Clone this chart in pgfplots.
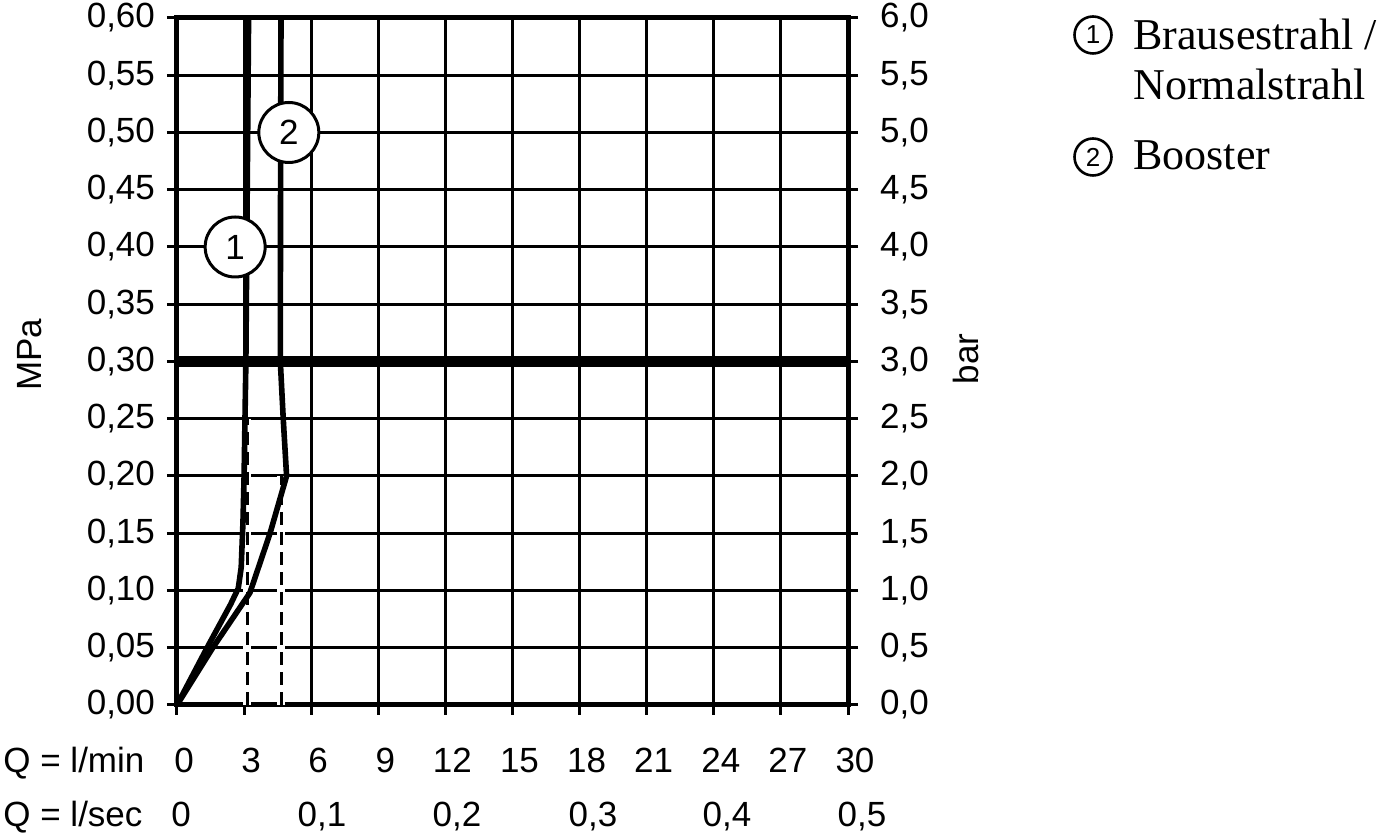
\documentclass[border=0pt]{standalone}
\usepackage{pgfplots}
\pgfplotsset{compat=1.18}
\usepackage{fontspec}
\setmainfont{Liberation Serif}
\setsansfont{Liberation Sans}
\newcommand\axfont{\sffamily\fontsize{17.5}{20}\selectfont}
\begin{document}
\begin{tikzpicture}
\pgfplotsset{
  chartbase/.style={
    at={(0pt,0pt)}, anchor=south west,
    scale only axis, width=335.5pt, height=343.5pt,
    xmin=0, xmax=30,
    tick align=outside,
    major tick length=5pt,
    tick style={black, line width=1.5pt},
    axis line style={black, line width=2.5pt},
    ticklabel style={font=\axfont},
  }
}
\begin{axis}[chartbase,
  ymin=0, ymax=0.6,
  xtick={0,3,...,30},
  xticklabels={0,3,6,9,12,15,18,21,24,27,30},
  xticklabel style={anchor=base, xshift=3.5pt, yshift=-29pt},
  yticklabel style={xshift=-2.5pt},
  ytick={0,0.05,0.1,0.15,0.2,0.25,0.3,0.35,0.4,0.45,0.5,0.55,0.6},
  yticklabels={{0,00},{0,05},{0,10},{0,15},{0,20},{0,25},{0,30},{0,35},{0,40},{0,45},{0,50},{0,55},{0,60}},
  xtick pos=bottom, ytick pos=left,
  grid=major,
  major grid style={black, line width=1.5pt},
  clip=false,
]
% dashed guide lines with white halo
\addplot[white, line width=4pt] coordinates {(3.14,0) (3.14,0.25)};
\addplot[white, line width=4pt] coordinates {(4.65,0) (4.65,0.2)};
\addplot[black, line width=1.5pt, dash pattern=on 6.5pt off 3.5pt] coordinates {(3.14,0) (3.14,0.25)};
\addplot[black, line width=1.5pt, dash pattern=on 6.5pt off 3.5pt] coordinates {(4.65,0) (4.65,0.2)};
% 3 bar line
\addplot[black, line width=5.5pt] coordinates {(0,0.3) (30,0.3)};
% curve 1: Brausestrahl / Normalstrahl
\addplot[black, line width=2.8pt, line join=round] coordinates {
  (0,0) (1.4,0.052) (2.4,0.088) (2.74,0.102) (2.87,0.12) (2.95,0.16)
  (3.0,0.2) (3.08,0.3) (3.12,0.4) (3.2,0.6)};
% curve 2: Booster
\addplot[black, line width=2.8pt, line join=round] coordinates {
  (0,0) (1.6,0.05) (3.26,0.098) (4.16,0.15) (4.9,0.2) (4.75,0.25)
  (4.62,0.3) (4.63,0.45) (4.65,0.6)};
\node[circle, draw, line width=1.5pt, fill=white, minimum size=30pt, inner sep=0pt, font=\axfont] at (axis cs:2.6,0.40) {1};
\node[circle, draw, line width=1.5pt, fill=white, minimum size=30pt, inner sep=0pt, font=\axfont] at (axis cs:5.0,0.50) {2};
\end{axis}
\begin{axis}[chartbase,
  ymin=0, ymax=6,
  axis y line*=right, axis x line=none,
  yticklabel style={xshift=7.5pt},
  ytick={0,0.5,1,1.5,2,2.5,3,3.5,4,4.5,5,5.5,6},
  yticklabels={{0,0},{0,5},{1,0},{1,5},{2,0},{2,5},{3,0},{3,5},{4,0},{4,5},{5,0},{5,5},{6,0}},
]
\addplot[draw=none] coordinates {(0,0)};
\end{axis}
% axis titles
\node[rotate=90, font=\axfont] at (-73.5pt,175pt) {MPa};
\node[rotate=90, font=\axfont] at (394.5pt,173pt) {bar};
\node[anchor=base west, inner sep=0pt, font=\axfont] at (-87pt,-34pt) {Q = l/min};
\node[anchor=base west, inner sep=0pt, font=\axfont] at (-87pt,-61pt) {Q = l/sec};
\foreach \xx/\lab in {2/0, 72.5/{0,1}, 140/{0,2}, 208/{0,3}, 275/{0,4}, 342.5/{0,5}}
  \node[anchor=base, inner sep=0pt, font=\axfont] at (\xx pt,-61pt) {\lab};
% legend
\node[circle, draw, line width=1.3pt, minimum size=18.5pt, inner sep=0pt, font=\sffamily\fontsize{13}{15}\selectfont] at (458pt,335pt) {1};
\node[anchor=base west, inner sep=0pt, font=\fontsize{22}{26}\selectfont] at (478pt,327.5pt) {Brausestrahl /};
\node[anchor=base west, inner sep=0pt, font=\fontsize{22}{26}\selectfont] at (478pt,302.5pt) {Normalstrahl};
\node[circle, draw, line width=1.3pt, minimum size=18.5pt, inner sep=0pt, font=\sffamily\fontsize{13}{15}\selectfont] at (458pt,274pt) {2};
\node[anchor=base west, inner sep=0pt, font=\fontsize{22}{26}\selectfont] at (478pt,267.5pt) {Booster};
\pgfresetboundingbox
\path (-88.5pt,-67pt) rectangle (603pt,352.5pt);
\end{tikzpicture}
\end{document}
